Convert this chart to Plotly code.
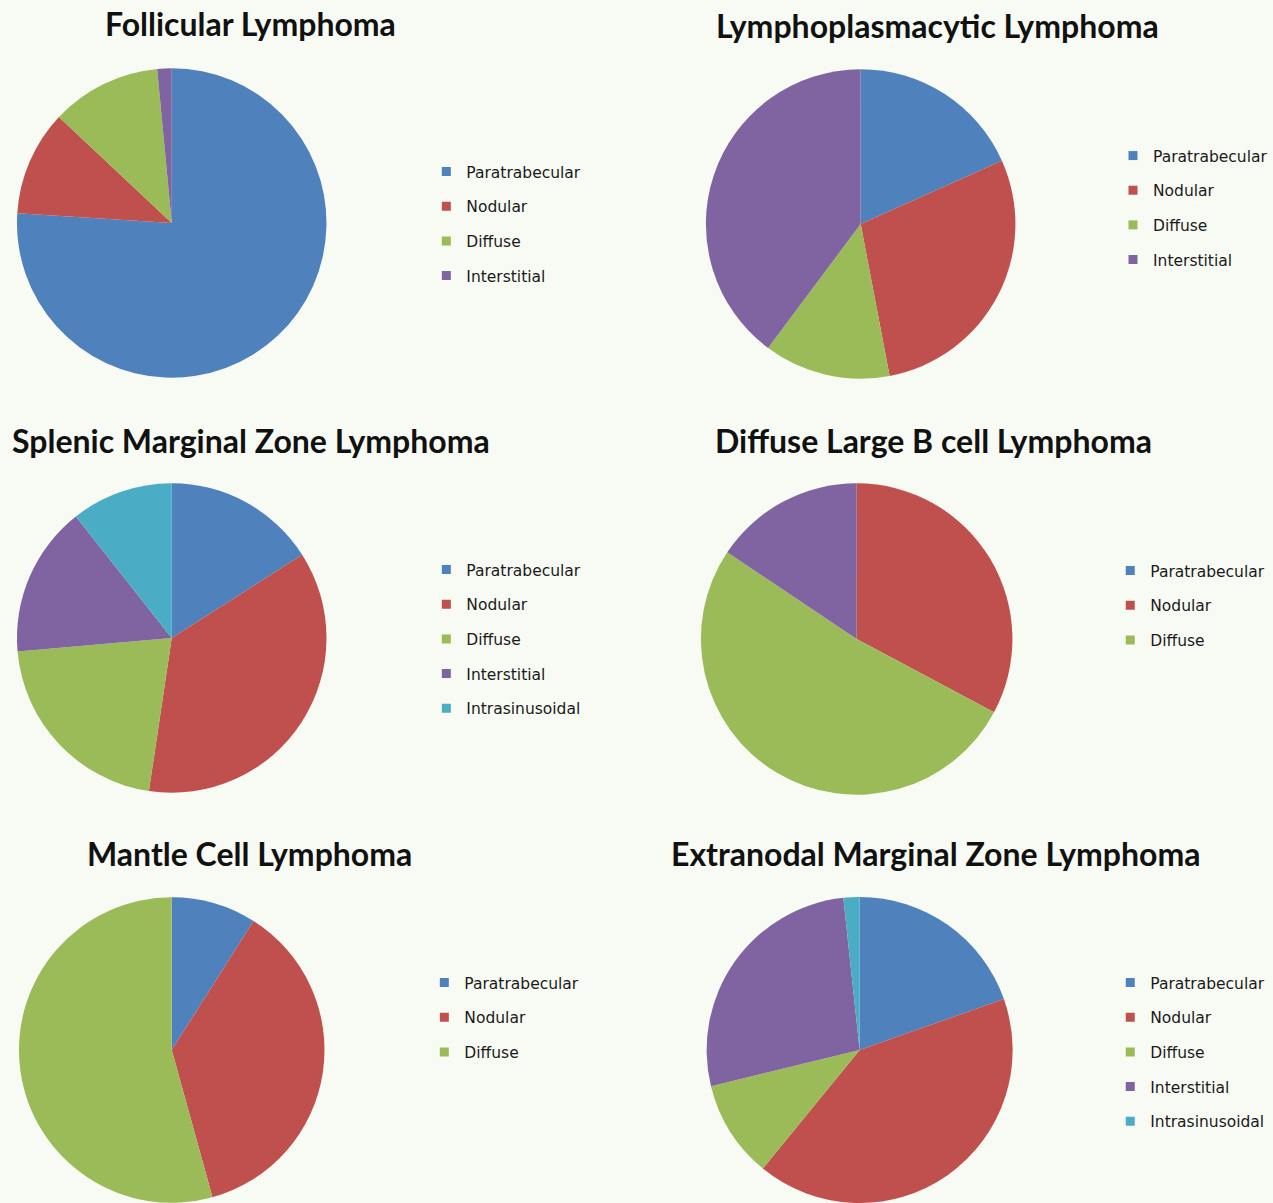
import plotly.graph_objects as go

# Infiltration patterns (legend categories) and their slice colours
categories = ["Paratrabecular", "Nodular", "Diffuse", "Interstitial", "Intrasinusoidal"]
colors = ["#4F81BD", "#C0504D", "#9BBB59", "#8064A2", "#4BACC6"]

# Share of cases (%) for each lymphoma type, in category order
follicular = [76.0, 11.0, 11.5, 1.5]
lymphoplasmacytic = [18.3, 28.7, 13.2, 39.8]
splenic_mz = [15.9, 36.3, 21.2, 15.7, 10.6]
dlbcl = [0.0, 32.8, 51.6, 15.6]
mantle_cell = [9.0, 36.7, 54.3]
extranodal_mz = [19.6, 41.3, 10.3, 27.1, 1.7]

titles = [
    "Follicular Lymphoma",
    "Lymphoplasmacytic Lymphoma",
    "Splenic Marginal Zone Lymphoma",
    "Diffuse Large B cell Lymphoma",
    "Mantle Cell Lymphoma",
    "Extranodal Marginal Zone Lymphoma",
]
series = [follicular, lymphoplasmacytic, splenic_mz, dlbcl, mantle_cell, extranodal_mz]
# number of categories listed in each panel's legend
legend_counts = [4, 4, 5, 3, 3, 5]

W, H = 1273, 1203
BG = "#F8FBF4"

# panel geometry in pixels: pie centre, radius, title centre, legend top-left
panels = [
    dict(cx=172, cy=223, r=155, tx=251, ty=24, lx=427, ly=155),
    dict(cx=862, cy=224, r=155, tx=939, ty=25, lx=1115, ly=139),
    dict(cx=172, cy=638, r=155, tx=251, ty=440, lx=427, ly=553),
    dict(cx=858, cy=639, r=156, tx=935, ty=440, lx=1112, ly=554),
    dict(cx=172, cy=1050, r=153, tx=250, ty=853, lx=425, ly=966),
    dict(cx=861, cy=1051, r=154, tx=937, ty=853, lx=1112, ly=966),
]


def px_x(x):
    return x / W


def px_y(y):
    return 1 - y / H


fig = go.Figure()

for i, (vals, p) in enumerate(zip(series, panels)):
    dom_x = [max(0, px_x(p["cx"] - p["r"])), min(1, px_x(p["cx"] + p["r"]))]
    dom_y = [max(0, px_y(p["cy"] + p["r"])), min(1, px_y(p["cy"] - p["r"]))]
    fig.add_trace(go.Pie(
        labels=categories[:len(vals)],
        values=vals,
        sort=False,
        direction="clockwise",
        rotation=0,
        textinfo="none",
        hoverinfo="label+percent",
        marker=dict(colors=colors[:len(vals)], line=dict(width=0)),
        domain=dict(x=dom_x, y=dom_y),
        showlegend=False,
    ))

    legend_name = "legend" if i == 0 else f"legend{i + 1}"
    for k in range(legend_counts[i]):
        fig.add_trace(go.Scatter(
            x=[None], y=[None],
            mode="markers",
            name=categories[k],
            marker=dict(symbol="square", size=9, color=colors[k]),
            legend=legend_name,
            legendgroup=f"{i}-{k}",
            showlegend=True,
            hoverinfo="skip",
        ))

    fig.add_annotation(
        text=f"<b>{titles[i]}</b>",
        x=px_x(p["tx"]), y=px_y(p["ty"]),
        xref="paper", yref="paper",
        xanchor="center", yanchor="middle",
        showarrow=False,
        font=dict(family="Lato", size=32, color="#111111"),
    )

legend_style = dict(
    xanchor="left", yanchor="top",
    bgcolor="rgba(0,0,0,0)",
    borderwidth=0,
    font=dict(family="DejaVu Sans", size=15.5, color="#1A1A1A"),
    tracegroupgap=11.5,
    itemclick=False,
    itemdoubleclick=False,
)
legends = {}
for i, p in enumerate(panels):
    key = "legend" if i == 0 else f"legend{i + 1}"
    legends[key] = dict(legend_style, x=px_x(p["lx"]), y=px_y(p["ly"]))

fig.update_layout(
    width=W, height=H,
    margin=dict(l=0, r=0, t=0, b=0),
    paper_bgcolor=BG,
    plot_bgcolor=BG,
    xaxis=dict(visible=False),
    yaxis=dict(visible=False),
    **legends,
)

fig.write_html("out.html")
